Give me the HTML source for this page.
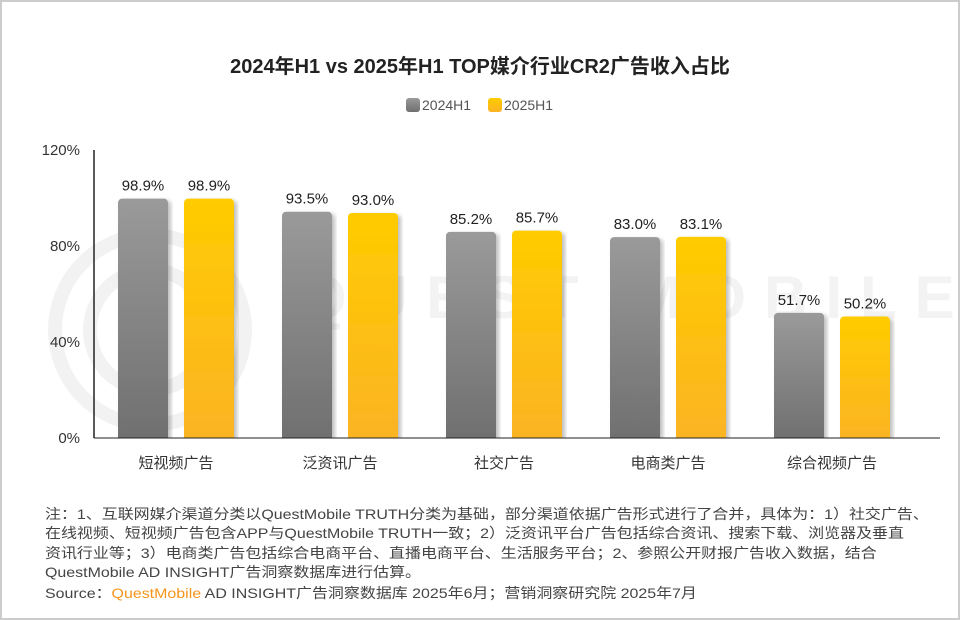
<!DOCTYPE html><html><head><meta charset="utf-8"><style>
body{margin:0;width:960px;height:620px;background:#fff;font-family:"Liberation Sans","Noto Sans CJK SC",sans-serif;overflow:hidden}
.frame{position:absolute;left:0;top:0;width:956px;height:616px;border:2px solid #ccc;}
.note{position:absolute;left:45px;top:505px;font-size:14px;line-height:19.3px;color:#444;white-space:nowrap;transform:scaleX(1.14);transform-origin:0 0}
</style></head><body><div class="frame"></div>
<svg width="960" height="620" style="position:absolute;left:0;top:0">
<defs>
<linearGradient id="g" x1="0" y1="0" x2="0" y2="1"><stop offset="0" stop-color="#9a9a9a"/><stop offset="1" stop-color="#6f6f6f"/></linearGradient>
<linearGradient id="y" x1="0" y1="0" x2="0" y2="1"><stop offset="0" stop-color="#ffcc00"/><stop offset="1" stop-color="#fbb324"/></linearGradient>
<filter id="s"><feDropShadow dx="3" dy="2" stdDeviation="2" flood-opacity="0.25"/></filter>
</defs>
<g fill="none" stroke="#f2f2f2" stroke-width="14">
<circle cx="150" cy="330" r="95"/><circle cx="150" cy="330" r="60"/></g>
<text x="300" y="318" font-size="60" fill="#f3f3f3" font-weight="bold" letter-spacing="18">QUEST MOBILE</text>
<text x="480" y="73" font-size="20" text-anchor="middle" fill="#222" font-weight="bold">2024年H1 vs 2025年H1 TOP媒介行业CR2广告收入占比</text>
<rect x="406" y="98" width="14" height="14" rx="3" fill="url(#g)"/><text x="422" y="110" font-size="14" fill="#555">2024H1</text>
<rect x="488" y="98" width="14" height="14" rx="3" fill="url(#y)"/><text x="504" y="110" font-size="14" fill="#555">2025H1</text>
<g font-size="15" fill="#333" text-anchor="end">
<text x="80" y="155">120%</text><text x="80" y="251">80%</text><text x="80" y="347">40%</text><text x="80" y="443">0%</text></g>
<line x1="94" y1="150" x2="94" y2="438" stroke="#222" stroke-width="1.5"/>
<g id="bars" font-size="15" fill="#222" text-anchor="middle"></g>
</svg>
<script>
var d=[["短视频广告",98.9,98.9],["泛资讯广告",93.5,93.0],["社交广告",85.2,85.7],["电商类广告",83.0,83.1],["综合视频广告",51.7,50.2]];
var h="";d.forEach(function(r,i){var x=118+164*i;
[[r[1],x,"g"],[r[2],x+66,"y"]].forEach(function(b){var t=438-b[0]*2.42;
h+='<rect x="'+b[1]+'" y="'+t+'" width="50" height="'+(438-t+4)+'" rx="4" fill="url(#'+b[2]+')" filter="url(#s)"/>';
h+='<text x="'+(b[1]+25)+'" y="'+(t-8)+'">'+b[0].toFixed(1)+'%</text>';});
h+='<text x="'+(x+58)+'" y="468" fill="#333">'+r[0]+'</text>';});
document.getElementById("bars").innerHTML=h;
</script>
<svg width="960" height="620" style="position:absolute;left:0;top:0;pointer-events:none"><rect x="94" y="438" width="850" height="10" fill="#fff"/><line x1="94" y1="438" x2="940" y2="438" stroke="#222"/></svg>
<div class="note">注：1、互联网媒介渠道分类以QuestMobile TRUTH分类为基础，部分渠道依据广告形式进行了合并，具体为：1）社交广告、<br>在线视频、短视频广告包含APP与QuestMobile TRUTH一致；2）泛资讯平台广告包括综合资讯、搜索下载、浏览器及垂直<br>资讯行业等；3）电商类广告包括综合电商平台、直播电商平台、生活服务平台；2、参照公开财报广告收入数据，结合<br>QuestMobile AD INSIGHT广告洞察数据库进行估算。<div style="margin-top:2px">Source：<span style="color:#f7941d">QuestMobile</span> AD INSIGHT广告洞察数据库 2025年6月；营销洞察研究院 2025年7月</div></div>
</body></html>
